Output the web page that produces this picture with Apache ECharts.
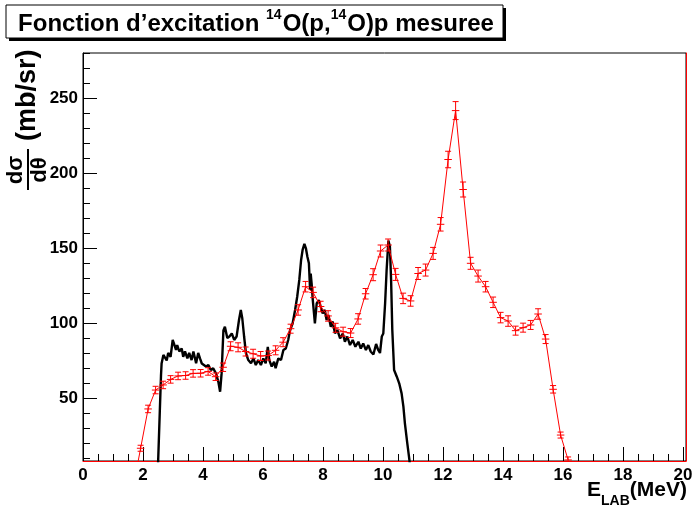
<!DOCTYPE html>
<html>
<head>
<meta charset="utf-8">
<script src="https://cdn.jsdelivr.net/npm/echarts@6/dist/echarts.min.js"></script>
<style>
html, body { margin: 0; padding: 0; background: #fff; }
#main { width: 695px; height: 508px; }
</style>
</head>
<body>
<div id="main"></div>
<script>
// mesure (points rouges avec barres d'erreur)
const redE = [1.67, 1.92, 2.17, 2.42, 2.67, 2.92, 3.17, 3.42, 3.67, 3.92, 4.17, 4.42, 4.67, 4.92,
  5.17, 5.42, 5.67, 5.92, 6.17, 6.42, 6.67, 6.92, 7.17, 7.42, 7.67, 7.92, 8.17, 8.42, 8.67, 8.92,
  9.17, 9.42, 9.67, 9.92, 10.17, 10.42, 10.67, 10.92, 11.17, 11.42, 11.67, 11.92, 12.17, 12.42,
  12.67, 12.92, 13.17, 13.42, 13.67, 13.92, 14.17, 14.42, 14.67, 14.92, 15.17, 15.42, 15.67,
  15.92, 16.17];
const redVal = [-10, 16.5, 42.7, 55.3, 58.7, 62.4, 64.7, 65, 66.4, 66.5, 67.7, 64.2, 70.5, 84.5,
  83.8, 81, 79.5, 78, 78.3, 81.8, 87.2, 96.2, 108.7, 124.2, 120.4, 111, 104.7, 96.8, 94.2, 93.3,
  102.7, 119.5, 132.2, 148, 152, 132.4, 116.4, 114.7, 133, 135.3, 146.4, 165.8, 209, 241.6,
  189, 139.8, 131.3, 124.2, 113.8, 103.6, 101.3, 94.9, 96.9, 98.7, 106, 89.3, 55.8,
  25.3, 8.7];
const redErr = [2, 2, 2.5, 2.5, 2.5, 2.5, 2.5, 2.5, 2.5, 2.5, 2.5, 2.5, 2.8, 3,
  3, 3, 3, 3, 3, 3, 3, 3, 3.5, 3.5, 3.5, 3.5, 3.5, 3, 3, 3,
  3.5, 3.5, 4, 4, 4, 4, 3.5, 3.5, 4, 4, 4, 4.5, 5.5, 6,
  5, 4, 4, 3.5, 3.5, 3.5, 3.5, 3, 3, 3, 3.5, 3, 2.5,
  2, 2];
const binHalf = 0.125;

// spectre (courbe noire)
const blackE = [2.46, 2.5, 2.6, 2.62, 2.68, 2.73, 2.79, 2.84, 2.92, 2.99, 3.03, 3.1, 3.14, 3.21,
  3.29, 3.34, 3.4, 3.48, 3.54, 3.62, 3.68, 3.77, 3.84, 3.9, 3.96, 4.01, 4.1, 4.18, 4.26, 4.34,
  4.43, 4.51, 4.57, 4.62, 4.68, 4.73, 4.81, 4.88, 4.96, 5.04, 5.12, 5.2, 5.26, 5.31, 5.37, 5.43,
  5.51, 5.6, 5.68, 5.76, 5.84, 5.93, 6.01, 6.09, 6.16, 6.21, 6.29, 6.37, 6.42, 6.51, 6.6, 6.68,
  6.76, 6.84, 6.9, 6.99, 7.07, 7.14, 7.21, 7.27, 7.32, 7.38, 7.43, 7.48, 7.53, 7.57, 7.59, 7.62,
  7.66, 7.7, 7.73, 7.79, 7.86, 7.92, 7.99, 8.06, 8.12, 8.18, 8.26, 8.32, 8.4, 8.48, 8.57, 8.66,
  8.73, 8.81, 8.9, 8.99, 9.08, 9.18, 9.26, 9.34, 9.43, 9.51, 9.59, 9.68, 9.77, 9.84, 9.9, 9.96,
  10.01, 10.07, 10.12, 10.18, 10.23, 10.27, 10.31, 10.37, 10.46, 10.54, 10.62, 10.68, 10.73,
  10.81, 10.88, 10.92];
const blackVal = [0, 5, 65, 73, 78.7, 77.5, 75, 80, 77.5, 88.7, 86.4, 82, 85.3, 81,
  83, 77.5, 81, 76.4, 80, 75.3, 81, 73.1, 80, 76.4, 73, 74.2, 71, 72, 68.7, 69.8,
  66.4, 60.9, 54.2, 66.4, 95, 97.5, 90, 91, 93, 88.7, 91, 102, 108.7, 103, 91, 80,
  75.3, 73.1, 76.4, 72, 75.3, 72, 76.4, 73.1, 84, 75.3, 71, 74.2, 69.8, 76.4, 75.3, 82,
  83, 88.7, 95, 100, 108.7, 117.5, 128.7, 142, 148.7, 152.7, 149.8, 144.2, 139.8, 122, 133, 126.4,
  115.3, 106.4, 99.8, 113.1, 115.3, 111, 106.4, 108.7, 102, 105.3, 97.5, 101, 93.1, 95.3, 89.8, 93,
  87.5, 91, 85.3, 88.7, 84.2, 87.5, 83, 86.4, 82, 85.3, 81, 79, 86, 82, 80, 91,
  93, 113, 135, 155, 151, 128.7, 95.3, 68.7, 64.2, 59.8, 53.1, 44.2, 33.1,
  19.8, 8.7, 0];

const xMajor = [0, 2, 4, 6, 8, 10, 12, 14, 16, 18, 20];
const xMinor = [0.5, 1, 1.5, 2.5, 3, 3.5, 4.5, 5, 5.5, 6.5, 7, 7.5, 8.5, 9, 9.5, 10.5, 11, 11.5,
  12.5, 13, 13.5, 14.5, 15, 15.5, 16.5, 17, 17.5, 18.5, 19, 19.5];
const yMajor = [50, 100, 150, 200, 250];
const yMinor = [10, 20, 30, 40, 60, 70, 80, 90, 110, 120, 130, 140, 160, 170, 180, 190,
  210, 220, 230, 240, 260, 270, 280];

const font = '"Liberation Sans", Arial, Helvetica, sans-serif';
const chart = echarts.init(document.getElementById('main'));

const redLine = redE.map((e, i) => [e, redVal[i]]);
const redBars = redE.map((e, i) => [e, redVal[i], redErr[i]]);
const blackLine = blackE.map((e, i) => [e, blackVal[i]]);

const gridBox = { left: 83, right: 9, top: 53, bottom: 47 };

const option = {
  animation: false,
  backgroundColor: '#fff',
  grid: [
    Object.assign({ show: true, borderColor: '#000', borderWidth: 1, containLabel: false, outerBoundsMode: 'none' }, gridBox),
    Object.assign({ show: false, containLabel: false, outerBoundsMode: 'none' }, gridBox)
  ],
  xAxis: [
    {
      gridIndex: 0, type: 'value', min: 0, max: 20.1,
      axisLine: { show: true, lineStyle: { color: '#ff0000', width: 1 } },
      axisTick: { show: true, inside: true, length: 14, customValues: xMajor, lineStyle: { color: '#000' } },
      axisLabel: { show: true, customValues: xMajor, margin: 6, color: '#000', fontFamily: font, fontWeight: 'bold', fontSize: 17 },
      splitLine: { show: false }
    },
    {
      gridIndex: 1, type: 'value', min: 0, max: 20.1,
      axisLine: { show: false },
      axisTick: { show: true, inside: true, length: 7, customValues: xMinor, lineStyle: { color: '#000' } },
      axisLabel: { show: false },
      splitLine: { show: false }
    }
  ],
  yAxis: [
    {
      gridIndex: 0, type: 'value', min: 8, max: 280, position: 'left',
      axisLine: { show: true, lineStyle: { color: '#000', width: 1 } },
      axisTick: { show: true, inside: true, length: 14, customValues: yMajor, lineStyle: { color: '#000' } },
      axisLabel: { show: true, customValues: yMajor, margin: 5, color: '#000', fontFamily: font, fontWeight: 'bold', fontSize: 17 },
      splitLine: { show: false }
    },
    {
      gridIndex: 0, type: 'value', min: 8, max: 280, position: 'right',
      axisLine: { show: true, lineStyle: { color: '#ff0000', width: 1 } },
      axisTick: { show: false }, axisLabel: { show: false }, splitLine: { show: false }
    },
    {
      gridIndex: 1, type: 'value', min: 8, max: 280, position: 'left',
      axisLine: { show: false },
      axisTick: { show: true, inside: true, length: 7, customValues: yMinor, lineStyle: { color: '#000' } },
      axisLabel: { show: false },
      splitLine: { show: false }
    }
  ],
  series: [
    {
      type: 'line', xAxisIndex: 0, yAxisIndex: 0, data: blackLine,
      showSymbol: false, symbol: 'none', clip: true,
      lineStyle: { color: '#000', width: 2.4 }, z: 3
    },
    {
      type: 'line', xAxisIndex: 0, yAxisIndex: 0, data: redLine,
      showSymbol: false, symbol: 'none', clip: true,
      lineStyle: { color: '#ff0000', width: 1 }, z: 4
    },
    {
      type: 'custom', xAxisIndex: 0, yAxisIndex: 0, data: redBars, clip: true, z: 5,
      encode: { x: 0, y: 1 },
      renderItem: function (params, api) {
        const x = api.value(0), y = api.value(1), e = api.value(2);
        const c = api.coord([x, y]);
        const hi = api.coord([x, y + e]);
        const lo = api.coord([x, y - e]);
        const l = api.coord([x - binHalf, y]);
        const r = api.coord([x + binHalf, y]);
        const st = { stroke: '#ff0000', lineWidth: 1 };
        return {
          type: 'group',
          children: [
            { type: 'line', shape: { x1: l[0], y1: c[1], x2: r[0], y2: c[1] }, style: st },
            { type: 'line', shape: { x1: c[0], y1: hi[1], x2: c[0], y2: lo[1] }, style: st },
            { type: 'line', shape: { x1: c[0] - 3, y1: hi[1], x2: c[0] + 3, y2: hi[1] }, style: st },
            { type: 'line', shape: { x1: c[0] - 3, y1: lo[1], x2: c[0] + 3, y2: lo[1] }, style: st }
          ]
        };
      }
    }
  ],
  graphic: [
    // cadre du titre avec ombre
    { type: 'rect', shape: { x: 9, y: 8, width: 497, height: 33 }, style: { fill: '#000' }, z: 10 },
    { type: 'rect', shape: { x: 6, y: 5, width: 497, height: 33 }, style: { fill: '#fff', stroke: '#000', lineWidth: 1 }, z: 11 },
    {
      type: 'text', z: 12,
      style: {
        x: 256, y: 22, align: 'center', verticalAlign: 'middle',
        text: '{t|Fonction d\u2019excitation }{s|14}{t|O(p,}{s|14}{t|O)p mesuree}',
        rich: {
          t: { fontFamily: font, fontWeight: 'bold', fontSize: 24, fill: '#000', lineHeight: 28, verticalAlign: 'bottom' },
          s: { fontFamily: font, fontWeight: 'bold', fontSize: 14, fill: '#000', lineHeight: 28, verticalAlign: 'top', padding: [0, 1, 0, 0] }
        }
      }
    },
    // titre de l'axe y : fraction d\u03c3/d\u03b8 (mb/sr)
    {
      type: 'group', x: 28, y: 192, rotation: Math.PI / 2, z: 12,
      children: [
        { type: 'text', style: { x: 22, y: -1, text: 'd\u03c3', align: 'center', verticalAlign: 'bottom', fontFamily: font, fontWeight: 'bold', fontSize: 22, fill: '#000' } },
        { type: 'line', shape: { x1: 2, y1: 0, x2: 43, y2: 0 }, style: { stroke: '#000', lineWidth: 2 } },
        { type: 'text', style: { x: 22, y: 1, text: 'd\u03b8', align: 'center', verticalAlign: 'top', fontFamily: font, fontWeight: 'bold', fontSize: 22, fill: '#000' } },
        { type: 'text', style: { x: 51, y: 0, text: '(mb/sr)', align: 'left', verticalAlign: 'middle', fontFamily: font, fontWeight: 'bold', fontSize: 27, fill: '#000' } }
      ]
    },
    // titre de l'axe x
    {
      type: 'text', z: 12,
      style: {
        x: 687, y: 494, align: 'right', verticalAlign: 'middle',
        text: '{e|E}{s|LAB}{e|(MeV)}',
        rich: {
          e: { fontFamily: font, fontWeight: 'bold', fontSize: 21, fill: '#000', lineHeight: 28, verticalAlign: 'top' },
          s: { fontFamily: font, fontWeight: 'bold', fontSize: 14, fill: '#000', lineHeight: 28, verticalAlign: 'bottom' }
        }
      }
    }
  ]
};

option && chart.setOption(option);
</script>
</body>
</html>
